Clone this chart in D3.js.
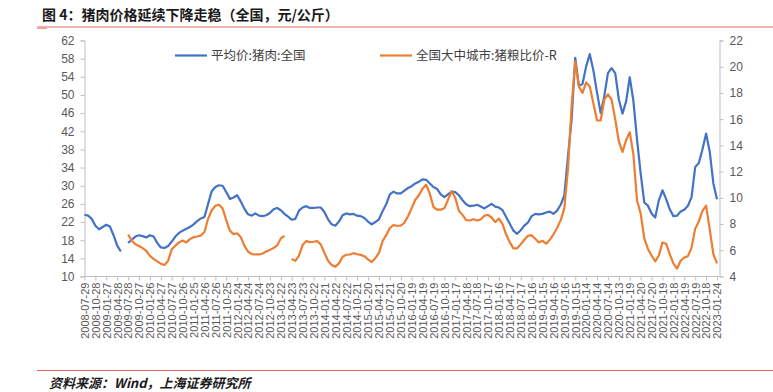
<!DOCTYPE html>
<html><head><meta charset="utf-8">
<script src="https://cdn.jsdelivr.net/npm/d3@7"></script>
<style>
html,body{margin:0;padding:0;background:#fff;}
svg{display:block;}
</style></head>
<body>
<svg id="c" width="773" height="392"></svg>
<script>
// ---- data (monthly readings, starting 2008-07) ----
const startMonth = "2008-07";
const porkPrice = [
23.6,23.4,22.7,21.2,20.4,20.9,21.4,21.0,19.1,16.8,
15.5,null,17.4,18.1,18.8,19.1,18.9,18.6,19.1,18.8,
17.4,16.4,16.3,16.7,17.7,18.8,19.6,20.1,20.5,20.9,
21.5,22.2,22.8,23.1,26.0,28.8,29.7,30.1,30.0,28.6,
27.1,27.4,27.9,26.5,24.9,23.7,23.4,23.9,23.4,23.3,
23.5,24.0,24.8,25.1,24.6,23.8,23.2,22.5,22.7,24.5,
25.2,25.5,25.1,25.1,25.2,25.2,24.2,22.6,21.5,21.2,
22.1,23.5,23.9,23.7,23.8,23.4,23.3,22.9,22.1,21.5,
22.0,22.6,24.4,25.9,28.1,28.7,28.3,28.3,28.9,29.5,
29.9,30.5,30.9,31.4,31.3,30.5,29.7,29.3,28.1,27.5,
28.1,28.7,28.6,27.9,26.8,25.9,25.5,25.6,25.8,25.4,
25.0,25.5,26.0,25.4,25.2,24.6,23.1,21.6,20.1,19.4,
20.2,21.2,21.9,23.3,23.8,23.7,23.8,24.1,24.3,23.8,
24.5,25.8,27.9,36.5,44.5,58.2,52.0,52.4,56.3,59.0,
55.4,50.5,46.0,49.8,54.8,55.9,54.8,49.0,45.9,48.6,
53.9,48.7,40.2,32.7,26.3,25.6,23.9,23.0,26.8,29.0,
27.1,24.8,23.3,23.4,24.3,24.7,25.6,27.5,34.1,35.0,
38.0,41.5,37.5,30.5,27.0
];
const hogGrainRatio = [
null,null,null,null,null,null,null,null,null,null,
null,null,7.2,6.73,6.46,6.33,6.16,5.96,5.57,5.34,
5.15,4.98,4.87,5.2,6.08,6.35,6.6,6.74,6.6,6.85,
7.0,7.05,7.13,7.4,8.4,9.05,9.4,9.47,9.18,8.3,
7.5,7.23,7.3,7.0,6.33,5.9,5.7,5.68,5.68,5.75,
5.9,6.03,6.17,6.37,6.9,7.1,null,5.33,5.2,5.6,
6.4,6.7,6.62,6.65,6.7,6.45,5.8,5.2,4.88,4.75,
5.0,5.5,5.66,5.68,5.78,5.7,5.65,5.55,5.3,5.1,
5.4,5.8,6.7,7.15,7.7,7.92,7.87,7.88,8.1,8.6,
9.2,9.85,10.2,10.7,11.0,10.3,9.3,9.1,9.1,9.2,
9.85,10.5,10.0,9.0,8.7,8.3,8.27,8.37,8.27,8.35,
8.63,8.7,8.5,8.15,8.42,8.0,7.2,6.6,6.15,6.15,
6.45,6.8,7.1,7.15,6.88,6.6,6.72,6.5,6.8,7.2,
7.7,8.3,9.2,12.2,17.0,20.4,18.5,18.0,18.8,18.5,
17.2,15.9,15.9,17.5,17.9,17.5,16.0,14.3,13.5,14.4,
15.0,13.3,9.8,8.8,6.9,6.1,5.6,5.15,5.6,6.6,
6.5,5.7,5.0,4.6,5.2,5.45,5.55,6.2,7.65,8.2,
9.0,9.4,7.6,5.7,5.0
];
const xTickLabels = [
"2008-07-29","2008-10-28","2009-01-27","2009-04-28","2009-07-28","2009-10-27",
"2010-01-26","2010-04-27","2010-07-27","2010-10-26","2011-01-25","2011-04-26",
"2011-07-26","2011-10-25","2012-01-24","2012-04-24","2012-07-24","2012-10-23",
"2013-01-22","2013-04-23","2013-07-23","2013-10-22","2014-01-21","2014-04-22",
"2014-07-22","2014-10-21","2015-01-20","2015-04-21","2015-07-21","2015-10-20",
"2016-01-19","2016-04-19","2016-07-19","2016-10-18","2017-01-17","2017-04-18",
"2017-07-18","2017-10-17","2018-01-16","2018-04-17","2018-07-17","2018-10-16",
"2019-01-15","2019-04-16","2019-07-16","2019-10-15","2020-01-14","2020-04-14",
"2020-07-14","2020-10-13","2021-01-19","2021-04-20","2021-07-20","2021-10-19",
"2022-01-18","2022-04-19","2022-07-19","2022-10-18","2023-01-24"
];
const leftTicks = [10,14,18,22,26,30,34,38,42,46,50,54,58,62];
const rightTicks = [4,6,8,10,12,14,16,18,20,22];
const seriesNames = ["平均价:猪肉:全国","全国大中城市:猪粮比价-R"];
const titleText = "图 4：猪肉价格延续下降走稳（全国，元/公斤）";
const sourceText = "资料来源：Wind，上海证券研究所";

// ---- drawing ----
const svg = d3.select("#c");
const FONT = "'Liberation Sans', Arial, 'Noto Sans CJK SC', sans-serif";
const CJK = "'Noto Sans CJK SC', 'Liberation Sans', sans-serif";
const blue = "#4472C4", orange = "#ED7D31", axisCol = "#BFBFBF", txt = "#595959";
const L = 84.5, R = 717, Rax = 719.5, T = 40.5, B = 276.5;

const x = d3.scaleLinear().domain([0, porkPrice.length - 1]).range([L, R]);
const yL = d3.scaleLinear().domain([10, 62]).range([B, T]);
const yR = d3.scaleLinear().domain([4, 22]).range([B, T]);

// title
svg.append("text").attr("x", 42).attr("y", 20).attr("font-family", CJK)
  .attr("font-size", 14).attr("font-weight", "bold").attr("fill", "#1a1a1a").text(titleText);
svg.append("line").attr("x1", 37).attr("x2", 773).attr("y1", 27).attr("y2", 27)
  .attr("stroke", "#E06666").attr("stroke-width", 1.2);
svg.append("rect").attr("x", 37).attr("y", 27).attr("width", 10).attr("height", 2).attr("fill", "#F2A0A0");

// axes
const gL = svg.append("g").attr("transform", `translate(${L},0)`)
  .call(d3.axisLeft(yL).tickValues(leftTicks).tickSize(4).tickPadding(6));
const gR = svg.append("g").attr("transform", `translate(${Rax},0)`)
  .call(d3.axisRight(yR).tickValues(rightTicks).tickSize(4).tickPadding(6));
const tickIdx = xTickLabels.map((d, i) => i * 3);
const gB = svg.append("g").attr("transform", `translate(0,${B})`)
  .call(d3.axisBottom(x).tickValues(tickIdx).tickSize(4).tickFormat((d, i) => xTickLabels[i]));
gB.select(".domain").attr("d", `M${L},0H${Rax}`);
[gL, gR, gB].forEach(g => {
  g.select(".domain").attr("stroke", axisCol);
  g.selectAll(".tick line").attr("stroke", axisCol);
  g.selectAll("text").attr("fill", txt).attr("font-family", FONT);
});
gL.selectAll("text").attr("font-size", 12);
gR.selectAll("text").attr("font-size", 12);
gB.selectAll("text").attr("font-size", 11)
  .attr("transform", "rotate(-90)").attr("text-anchor", "end")
  .attr("x", -6).attr("y", 0).attr("dy", "0.35em");

// lines
const lineL = d3.line().defined(d => d != null).x((d, i) => x(i)).y(d => yL(d));
const lineR = d3.line().defined(d => d != null).x((d, i) => x(i)).y(d => yR(d));
svg.append("path").datum(porkPrice).attr("d", lineL).attr("fill", "none")
  .attr("stroke", blue).attr("stroke-width", 2.2).attr("stroke-linejoin", "round");
svg.append("path").datum(hogGrainRatio).attr("d", lineR).attr("fill", "none")
  .attr("stroke", orange).attr("stroke-width", 2.2).attr("stroke-linejoin", "round");

// legend
const legend = [{name: seriesNames[0], c: blue, x: 175}, {name: seriesNames[1], c: orange, x: 380}];
legend.forEach(l => {
  svg.append("line").attr("x1", l.x).attr("x2", l.x + 32).attr("y1", 55.5).attr("y2", 55.5)
    .attr("stroke", l.c).attr("stroke-width", 2.2);
  svg.append("text").attr("x", l.x + 36).attr("y", 60).attr("font-family", CJK)
    .attr("font-size", 12.5).attr("fill", "#404040").text(l.name);
});

// source
svg.append("line").attr("x1", 37).attr("x2", 773).attr("y1", 370.5).attr("y2", 370.5)
  .attr("stroke", "#E06666").attr("stroke-width", 1.2);
svg.append("text").attr("x", 49).attr("y", 388).attr("font-family", CJK)
  .attr("font-size", 13).attr("font-style", "italic").attr("font-weight", "bold")
  .attr("fill", "#1a1a1a").text(sourceText);
</script>
</body></html>
